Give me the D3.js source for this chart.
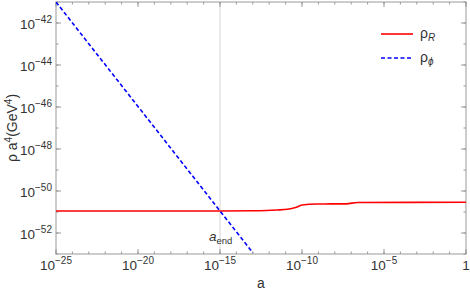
<!DOCTYPE html>
<html>
<head>
<meta charset="utf-8">
<script src="https://cdn.jsdelivr.net/npm/d3@7"></script>
<style>
  body { margin: 0; background: #fff; }
  text { font-family: "Liberation Sans", Arial, sans-serif; fill: #333; }
</style>
</head>
<body>
<script>
// rho_R a^4
var aR = [1e-25, 1e-15, 1e-13, 3e-12, 1.3e-11, 4e-11, 1e-10, 8e-10, 5e-8, 2.5e-7, 1];
var rhoR = [1.12e-51, 1.12e-51, 1.15e-51, 1.25e-51, 1.35e-51, 1.62e-51, 2.14e-51, 2.4e-51, 2.45e-51, 2.85e-51, 2.9e-51];

// rho_phi a^4
var aPhi = [1e-25, 1e-15, 1e-13];
var rhoPhi = [1e-41, 1.12e-51, 1.15e-53];

var aEnd = 1e-15;

var xTickExp = [-25, -20, -15, -10, -5, 0];
var xMinorExp = d3.range(-25, 1);
var yTickExp = [-52, -50, -48, -46, -44, -42];
var yMinorExp = d3.range(-53, -40);

var width = 470, height = 295;
var mLeft = 56, mRight = 466, mTop = 2, mBottom = 254;

var svg = d3.select("body").append("svg")
  .attr("width", width)
  .attr("height", height);

var x = d3.scaleLog().domain([1e-25, 1]).range([mLeft, mRight]);
var y = d3.scaleLog().domain([1e-53, 1e-41]).range([mBottom, mTop]);

var defs = svg.append("defs");
defs.append("clipPath").attr("id", "clip")
  .append("rect").attr("x", mLeft).attr("y", mTop)
  .attr("width", mRight - mLeft).attr("height", mBottom - mTop);

// a_end guide
svg.append("line")
  .attr("x1", x(aEnd)).attr("x2", x(aEnd))
  .attr("y1", mTop).attr("y2", mBottom)
  .attr("stroke", "#d4d4d4").attr("stroke-width", 1);

// frame + ticks
function ticks(g, vals, len, orient) {
  vals.forEach(function (e) {
    var v = Math.pow(10, e);
    if (orient == "b" || orient == "t") {
      var px = x(v);
      var y0 = orient == "b" ? mBottom : mTop;
      var dir = orient == "b" ? -1 : 1;
      g.append("line").attr("x1", px).attr("x2", px)
        .attr("y1", y0).attr("y2", y0 + dir * len);
    } else {
      var py = y(v);
      var x0 = orient == "l" ? mLeft : mRight;
      var dir2 = orient == "l" ? 1 : -1;
      g.append("line").attr("y1", py).attr("y2", py)
        .attr("x1", x0).attr("x2", x0 + dir2 * len);
    }
  });
}

var tg = svg.append("g").attr("stroke", "#999").attr("stroke-width", 1);
ticks(tg, xMinorExp, 2.5, "b");
ticks(tg, xMinorExp, 2.5, "t");
ticks(tg, xTickExp, 5, "b");
ticks(tg, xTickExp, 5, "t");
ticks(tg, yMinorExp, 2.5, "l");
ticks(tg, yMinorExp, 2.5, "r");
ticks(tg, yTickExp, 5, "l");
ticks(tg, yTickExp, 5, "r");

svg.append("rect")
  .attr("x", mLeft).attr("y", mTop)
  .attr("width", mRight - mLeft).attr("height", mBottom - mTop)
  .attr("fill", "none").attr("stroke", "#999").attr("stroke-width", 1);

// curves
var line = d3.line()
  .x(function (d) { return x(d[0]); })
  .y(function (d) { return y(d[1]); });

var plot = svg.append("g").attr("clip-path", "url(#clip)");

plot.append("path")
  .attr("d", line.curve(d3.curveMonotoneX)(d3.zip(aR, rhoR)))
  .attr("fill", "none")
  .attr("stroke", "#f00")
  .attr("stroke-width", 1.6);

plot.append("path")
  .attr("d", line.curve(d3.curveLinear)(d3.zip(aPhi, rhoPhi)))
  .attr("fill", "none")
  .attr("stroke", "#00f")
  .attr("stroke-width", 1.6)
  .attr("stroke-dasharray", "4,2.5");

// tick labels
xTickExp.forEach(function (e) {
  var t = svg.append("text")
    .attr("x", x(Math.pow(10, e)))
    .attr("y", 270)
    .attr("text-anchor", "middle")
    .attr("font-size", 13.5);
  if (e == 0) { t.text("1"); return; }
  t.append("tspan").text("10");
  t.append("tspan").attr("dy", -6).attr("font-size", 10).text("\u2212" + (-e));
});

yTickExp.forEach(function (e) {
  var t = svg.append("text")
    .attr("x", 52)
    .attr("y", y(Math.pow(10, e)) + 6)
    .attr("text-anchor", "end")
    .attr("font-size", 13.5);
  t.append("tspan").text("10");
  t.append("tspan").attr("dy", -6).attr("font-size", 10).text("\u2212" + (-e));
});

// axis titles
svg.append("text")
  .attr("x", (mLeft + mRight) / 2).attr("y", 288)
  .attr("text-anchor", "middle")
  .attr("font-size", 14)
  .text("a");

var yl = svg.append("text")
  .attr("transform", "translate(17," + ((mTop + mBottom) / 2) + ") rotate(-90)")
  .attr("text-anchor", "middle")
  .attr("font-size", 14);
yl.append("tspan").text("\u03c1 a");
yl.append("tspan").attr("dy", -5).attr("font-size", 10).text("4");
yl.append("tspan").attr("dy", 5).text("(GeV");
yl.append("tspan").attr("dy", -5).attr("font-size", 10).text("4");
yl.append("tspan").attr("dy", 5).text(")");

// a_end label
var ae = svg.append("text")
  .attr("x", x(aEnd) - 11).attr("y", 241)
  .attr("font-size", 13.5);
ae.append("tspan").attr("font-style", "italic").text("a");
ae.append("tspan").attr("dy", 3).attr("font-size", 9.5).text("end");

// legend
var legend = [
  { name: "R", color: "#f00", dash: null },
  { name: "\u03d5", color: "#00f", dash: "4,2.5" }
];
legend.forEach(function (d, i) {
  var ly = 34 + i * 24;
  svg.append("line")
    .attr("x1", 381).attr("x2", 413)
    .attr("y1", ly).attr("y2", ly)
    .attr("stroke", d.color).attr("stroke-width", 1.6)
    .attr("stroke-dasharray", d.dash);
  var t = svg.append("text")
    .attr("x", 420).attr("y", ly + 4)
    .attr("font-size", 14);
  t.append("tspan").text("\u03c1");
  t.append("tspan").attr("dy", 3).attr("font-size", 10).attr("font-style", "italic").text(d.name);
});
</script>
</body>
</html>
